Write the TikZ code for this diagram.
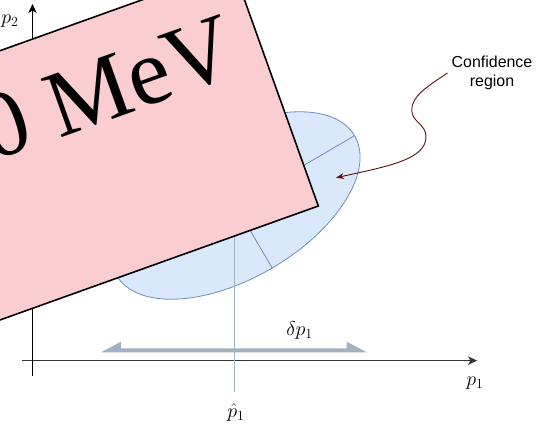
\documentclass[tikz,border=0pt]{standalone}
\usepackage{fix-cm}
\usepackage{fontspec}
\newfontfamily\bigserif{Liberation Serif}
\newfontfamily\labelsans{Liberation Sans}
\usetikzlibrary{arrows.meta,shapes.geometric}
\definecolor{pinkfill}{RGB}{250,205,208}
\definecolor{ellfill}{RGB}{218,232,252}
\definecolor{elldraw}{RGB}{108,142,191}
\definecolor{guide}{RGB}{160,180,200}
\definecolor{spread}{RGB}{162,177,194}
\definecolor{axisgray}{RGB}{51,51,51}
\definecolor{arrowmaroon}{RGB}{90,15,15}
\begin{document}
\begin{tikzpicture}[x=1bp,y=1bp,
  mathlbl/.style={font=\fontsize{20}{22}\selectfont, inner sep=0.5bp},
  axisline/.style={line width=1bp, -{Stealth[length=9bp,width=8.5bp,inset=2.5bp]}},
  ellline/.style={elldraw, line width=0.8bp}]
\useasboundingbox (0,0) rectangle (539,424);
\clip (0,0) rectangle (539,424);

% axes
\coordinate (xs) at (22,63.4);
\coordinate (xe) at (477,63.4);
\coordinate (ys) at (32.5,48);
\coordinate (ye) at (32.5,420);
\draw[axisline, axisgray] (xs) -- (xe);
\draw[axisline, black] (ys) -- (ye);
\node[mathlbl] (p1) at (475,41) {$p_1$};
\node[mathlbl] (p2) at (10,403) {$p_2$};

% confidence ellipse
\node[ellipse, draw=elldraw, fill=ellfill, line width=0.8bp,
      minimum width=276bp, minimum height=145bp, inner sep=0,
      rotate=30.4] (ell) at (235.5,218.5) {};
\draw[ellline] (ell.center) -- (ell.east);
\draw[ellline] (ell.center) -- (ell.south);

% estimate guide line
\node[mathlbl] (phat) at (236,11.5) {$\hat{p}_1$};
\coordinate (gb) at (234.5,32);
\draw[guide, line width=0.8bp] (gb) -- (gb |- ell.center);

% spread arrow
\coordinate (sl) at (101,71.7);
\coordinate (sr) at (366.7,71.7);
\fill[spread] (sl) -- ++(20,10.6) -- ++(0,-6.6) -- ++(225.7,0) -- ++(0,6.6) -- (sr) -- cycle;
\node[mathlbl] (dp) at (299.5,93) {$\delta p_1$};

% rotated box with text
\node[draw=black, fill=pinkfill, line width=1.6bp, rotate=19.7,
      minimum width=700bp, minimum height=253.5bp, inner sep=0, outer sep=0,
      anchor=south east] (box) at (318.3,218) {};
\node[font=\bigserif\fontsize{95}{100}\selectfont, rotate=19.7,
      anchor=base west, inner sep=0] (mev) at (-8,262) {0 MeV};

% confidence label and arrow
\node[font=\labelsans\fontsize{16}{18.5}\selectfont, align=center, inner sep=1bp] (conf) at (492,351) {Confidence\\region};
\coordinate (tip) at (336,246.3);
\draw[arrowmaroon, line width=0.9bp, -{Stealth[length=8bp,width=6bp]}]
  ([xshift=-3bp]conf.west) .. controls (428,338) and (411.7,328) .. (411.7,314)
  .. controls (411.7,302) and (426,300) .. (426,287.3)
  .. controls (426,265) and (390,258) .. (tip);
\end{tikzpicture}
\end{document}
